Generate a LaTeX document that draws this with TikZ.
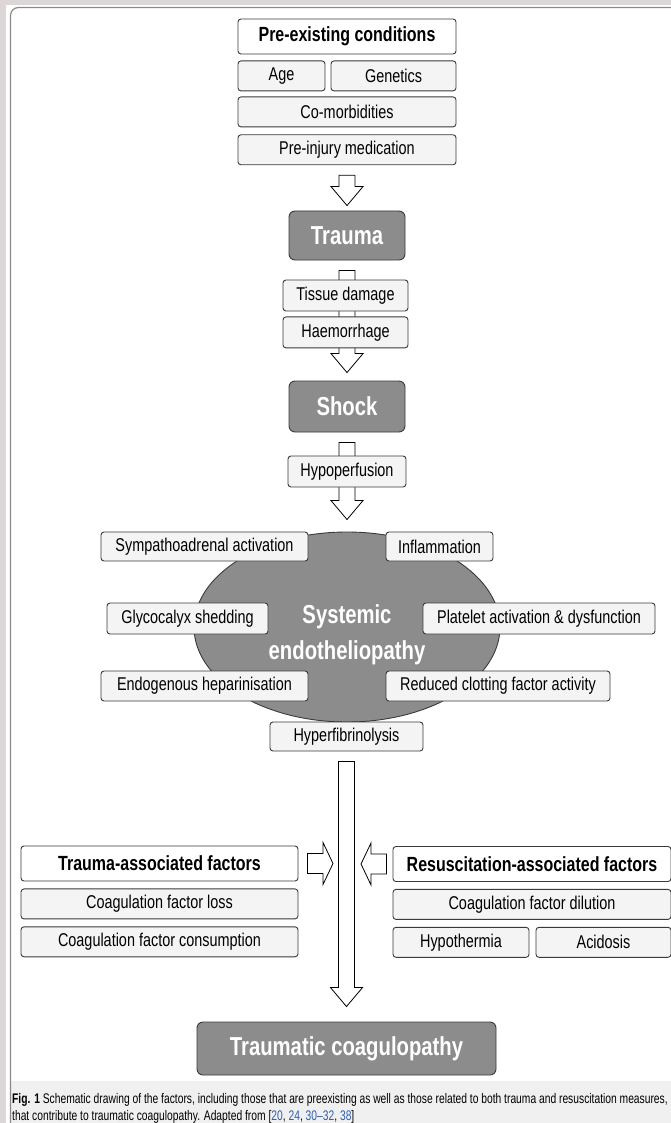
\documentclass[tikz,border=0pt]{standalone}
\usepackage{fontspec}
\newfontfamily\diagfont[FakeStretch=0.78]{Liberation Sans}
\newfontfamily\capfont[FakeStretch=0.74, Ligatures=TeX]{Liberation Sans}
\definecolor{tcline}{HTML}{3A3A3A}
\definecolor{tcdark}{HTML}{8C8C8C}
\definecolor{tcitem}{HTML}{F4F4F4}
\definecolor{tcframe}{HTML}{8A8A8A}
\definecolor{tcpage}{HTML}{DDD6D6}
\definecolor{tccap}{HTML}{F0F0F0}
\definecolor{tcref}{HTML}{2F5FB0}
\usetikzlibrary{shapes.geometric, positioning, calc, backgrounds}

% hollow block arrow pointing down, from one node to the next
\newcommand{\flowdown}[3]{%
  \draw[hollow] let \p1=(#1.south), \p2=(#2.north) in
    (\x1-8pt,\y1-10pt) -- (\x1+8pt,\y1-10pt) -- (\x1+8pt,\y2+#3pt+19pt)
    -- (\x1+16pt,\y2+#3pt+19pt) -- (\x1,\y2+#3pt) -- (\x1-16pt,\y2+#3pt+19pt)
    -- (\x1-8pt,\y2+#3pt+19pt) -- cycle;}

\begin{document}
\begin{tikzpicture}[
  x=1pt, y=-1pt,
  item/.style={rectangle, rounded corners=3pt, draw=tcline, line width=0.9pt,
    fill=tcitem, inner sep=0pt, minimum height=30pt,
    font=\diagfont\fontsize{18.5}{20}\selectfont},
  header/.style={item, fill=white, minimum height=35pt,
    font=\diagfont\bfseries\fontsize{20.5}{22}\selectfont},
  stage/.style={rectangle, rounded corners=6pt, draw=tcline, line width=0.9pt,
    fill=tcdark, inner sep=0pt, text=white,
    font=\diagfont\bfseries\fontsize{26}{28}\selectfont},
  hollow/.style={draw=black, line width=0.8pt, fill=white}
]
\useasboundingbox (0,0) rectangle (671,1123);

% pre-existing conditions
\node[header, minimum width=218pt] (pre) at (347,36.5) {Pre-existing conditions};
\node[item, minimum width=87pt, below right=6pt and 0pt of pre.south west] (age) {Age};
\node[item, minimum width=125pt, below left=6pt and 0pt of pre.south east] (gen) {Genetics};
\node[item, minimum width=218pt, below=42pt of pre] (comorb) {Co-morbidities};
\node[item, minimum width=218pt, below=7pt of comorb] (med) {Pre-injury medication};

% trauma and shock
\node[stage, minimum width=116pt, minimum height=49pt] (trauma) at (347,235.5) {Trauma};
\node[item, minimum width=125pt, minimum height=31pt] (tissue) at (345.5,295.5) {Tissue damage};
\node[item, minimum width=125pt, minimum height=31pt, below=5pt of tissue] (haem) {Haemorrhage};
\node[stage, minimum width=116pt, minimum height=51pt] (shock) at (347,406.5) {Shock};
\node[item, minimum width=118pt, minimum height=31pt] (hypo) at (347,471.5) {Hypoperfusion};

% endotheliopathy
\node[ellipse, draw=tcline, line width=0.9pt, fill=tcdark, minimum width=306pt,
  minimum height=190pt, inner sep=0pt, text=white,
  font=\diagfont\bfseries\fontsize{26}{36}\selectfont] (syse) at (347,627)
  {\raisebox{-13.5pt}[0pt][0pt]{\begin{tabular}{@{}c@{}}Systemic\\endotheliopathy\end{tabular}}};
\node[item, minimum width=207pt, minimum height=29pt] (symp) at (204.5,546.5) {Sympathoadrenal activation};
\node[item, minimum width=107pt, minimum height=29pt] (infl) at (439.5,546.5) {Inflammation};
\node[item, minimum width=161pt, minimum height=31pt] (glyco) at (187.5,618.5) {Glycocalyx shedding};
\node[item, minimum width=232pt, minimum height=31pt] (plate) at (539,618.5) {Platelet activation \& dysfunction};
\node[item, minimum width=207pt] (hep) at (204.5,686) {Endogenous heparinisation};
\node[item, minimum width=224pt] (clot) at (498,686) {Reduced clotting factor activity};
\node[item, minimum width=153pt, minimum height=29pt] (hyper) at (346.5,736.5) {Hyperfibrinolysis};

% trauma / resuscitation factors
\node[header, minimum width=277pt] (tfac) at (159.5,863.5) {Trauma-associated factors};
\node[item, minimum width=277pt, below=7pt of tfac] (loss) {Coagulation factor loss};
\node[item, minimum width=277pt, below=7pt of loss] (cons) {Coagulation factor consumption};
\node[header, minimum width=278pt] (rfac) at (532,864) {Resuscitation-associated factors};
\node[item, minimum width=278pt, below=7pt of rfac] (dil) {Coagulation factor dilution};
\node[item, minimum width=136pt, below right=7pt and 0pt of dil.south west] (hypoth) {Hypothermia};
\node[item, minimum width=135pt, below left=7pt and 0pt of dil.south east] (acid) {Acidosis};

\node[stage, minimum width=299pt, minimum height=53pt] (coag) at (346.5,1048.5) {Traumatic coagulopathy};

% caption
\node[anchor=north west, align=left, inner sep=0pt,
  font=\capfont\fontsize{13.9}{17.5}\selectfont] (cap) at (12,1093)
  {\textbf{Fig. 1} Schematic drawing of the factors, including those that are preexisting as well as those related to both trauma and resuscitation measures,\\
   that contribute to traumatic coagulopathy. Adapted from [\textcolor{tcref}{20}, \textcolor{tcref}{24}, \textcolor{tcref}{30--32}, \textcolor{tcref}{38}]};

\coordinate (flow) at (hyper.south |- tfac.east);

\begin{scope}[on background layer]
  \fill[tcpage] (0,0) rectangle (671,1123);
  \fill[white] (6,5) rectangle (671,1123);
  \fill[tccap] (10.5,1081) rectangle (671,1123);
  \draw[tcframe, line width=1.2pt, rounded corners=8pt] (10.5,7.5) rectangle (700,1150);
  \flowdown{med}{trauma}{5}
  \flowdown{trauma}{shock}{8}
  \flowdown{shock}{syse}{12}
  \flowdown{hyper}{coag}{15}
  \draw[hollow] let \p1=(tfac.east), \p2=(flow) in
    (\x1+9pt,\y1+10pt) -- (\x2-23.5pt,\y1+10pt) -- (\x2-23.5pt,\y1+21pt)
    -- (\x2-13.5pt,\y1) -- (\x2-23.5pt,\y1-21pt) -- (\x2-23.5pt,\y1-10pt)
    -- (\x1+9pt,\y1-10pt) -- cycle;
  \draw[hollow] let \p1=(rfac.west), \p2=(flow) in
    (\x1-6pt,\y1+10pt) -- (\x2+24.5pt,\y1+10pt) -- (\x2+24.5pt,\y1+21pt)
    -- (\x2+14.5pt,\y1) -- (\x2+24.5pt,\y1-21pt) -- (\x2+24.5pt,\y1-10pt)
    -- (\x1-6pt,\y1-10pt) -- cycle;
\end{scope}
\end{tikzpicture}
\end{document}
